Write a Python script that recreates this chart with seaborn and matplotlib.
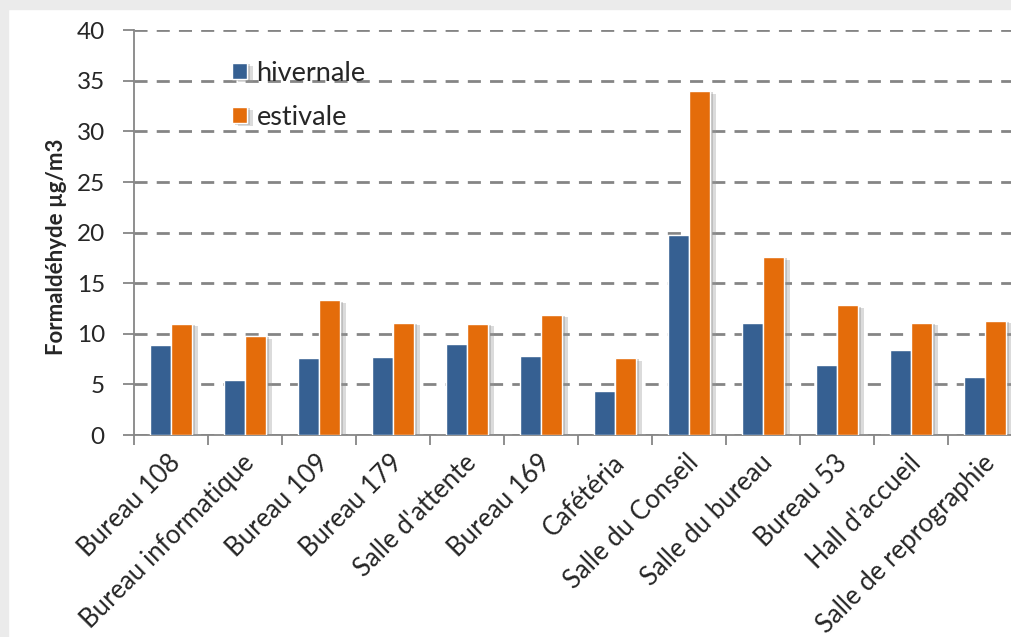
import matplotlib
matplotlib.use("Agg")
import matplotlib.pyplot as plt
import matplotlib.patheffects as pe
import matplotlib.transforms as mtransforms
from matplotlib.patches import Rectangle
import pandas as pd
import seaborn as sns

# Data
rooms = ["Bureau 108", "Bureau informatique", "Bureau 109", "Bureau 179",
         "Salle d'attente", "Bureau 169", "Cafétéria", "Salle du Conseil",
         "Salle du bureau", "Bureau 53", "Hall d'accueil", "Salle de reprographie"]
hivernale = [8.9, 5.4, 7.6, 7.7, 9.0, 7.8, 4.3, 19.8, 11.1, 6.9, 8.4, 5.7]
estivale = [11.0, 9.8, 13.3, 11.1, 11.0, 11.9, 7.6, 34.0, 17.6, 12.8, 11.1, 11.3]
yticks = [0, 5, 10, 15, 20, 25, 30, 35, 40]

df = pd.DataFrame({
    "room": rooms * 2,
    "value": hivernale + estivale,
    "campagne": ["hivernale"] * len(rooms) + ["estivale"] * len(rooms),
})

sns.set_style("white")
plt.rcParams['font.family'] = ['Lato', 'DejaVu Sans']

fig = plt.figure(figsize=(10.12, 6.37), dpi=100)
fig.patch.set_facecolor("white")
# grey frame shadow at top and left
fig.patches.append(Rectangle((0, 628 / 637), 1, 9 / 637, transform=fig.transFigure,
                             color="#ebebeb", zorder=-10))
fig.patches.append(Rectangle((0, 0), 8 / 1012, 1, transform=fig.transFigure,
                             color="#ebebeb", zorder=-10))

ax = fig.add_axes([134 / 1012, 202 / 637, 888 / 1012, 404.7 / 637])
sns.barplot(data=df, x="room", y="value", hue="campagne",
            palette=["#366092", "#e46c0a"], width=0.57, gap=0,
            saturation=1, errorbar=None, ax=ax, zorder=3)

for bar in ax.patches:
    bar.set_path_effects([pe.SimplePatchShadow(offset=(4, -2), shadow_rgbFace="#999999", alpha=0.35),
                          pe.SimplePatchShadow(offset=(2, -1), shadow_rgbFace="#888888", alpha=0.35),
                          pe.Normal()])

ax.set_ylim(0, 40)
ax.set_xlim(-0.5, len(rooms) - 0.5)
ax.set_yticks(yticks)
ax.yaxis.grid(True, color="#858585", linewidth=2.0, linestyle=(0, (4.7, 3.3)), zorder=0)
ax.set_axisbelow(True)

for side in ["top", "right"]:
    ax.spines[side].set_visible(False)
for side in ["left", "bottom"]:
    ax.spines[side].set_color("#868686")
    ax.spines[side].set_linewidth(1.3)

ax.tick_params(axis="y", which="major", direction="out", length=8, width=1.3,
               color="#868686", labelsize=17.5, pad=13, left=True)
ax.set_xticks(range(len(rooms)))
ax.set_xticklabels(rooms, rotation=45, ha="right", rotation_mode="anchor", fontsize=18.5)
ax.tick_params(axis="x", which="major", length=0, pad=11)
ax.set_xticks([i - 0.5 for i in range(len(rooms) + 1)], minor=True)
ax.tick_params(axis="x", which="minor", direction="out", length=7, width=1.3,
               color="#868686", bottom=True)
offset = mtransforms.ScaledTranslation(-0.03, 0, fig.dpi_scale_trans)
for lab in ax.get_xticklabels():
    lab.set_transform(lab.get_transform() + offset)

ax.set_xlabel("")
ax.set_ylabel("Formaldéhyde µg/m3", fontsize=16, fontweight="bold")
ax.yaxis.set_label_coords(-0.076, 0.465)

handles, labels = ax.get_legend_handles_labels()
ax.legend(handles, labels, loc="upper left", bbox_to_anchor=(0.083, 0.985),
          frameon=False, fontsize=19.5, handlelength=0.55, handleheight=0.55,
          handletextpad=0.35, labelspacing=0.7)

fig.savefig("out.png", dpi=100)
